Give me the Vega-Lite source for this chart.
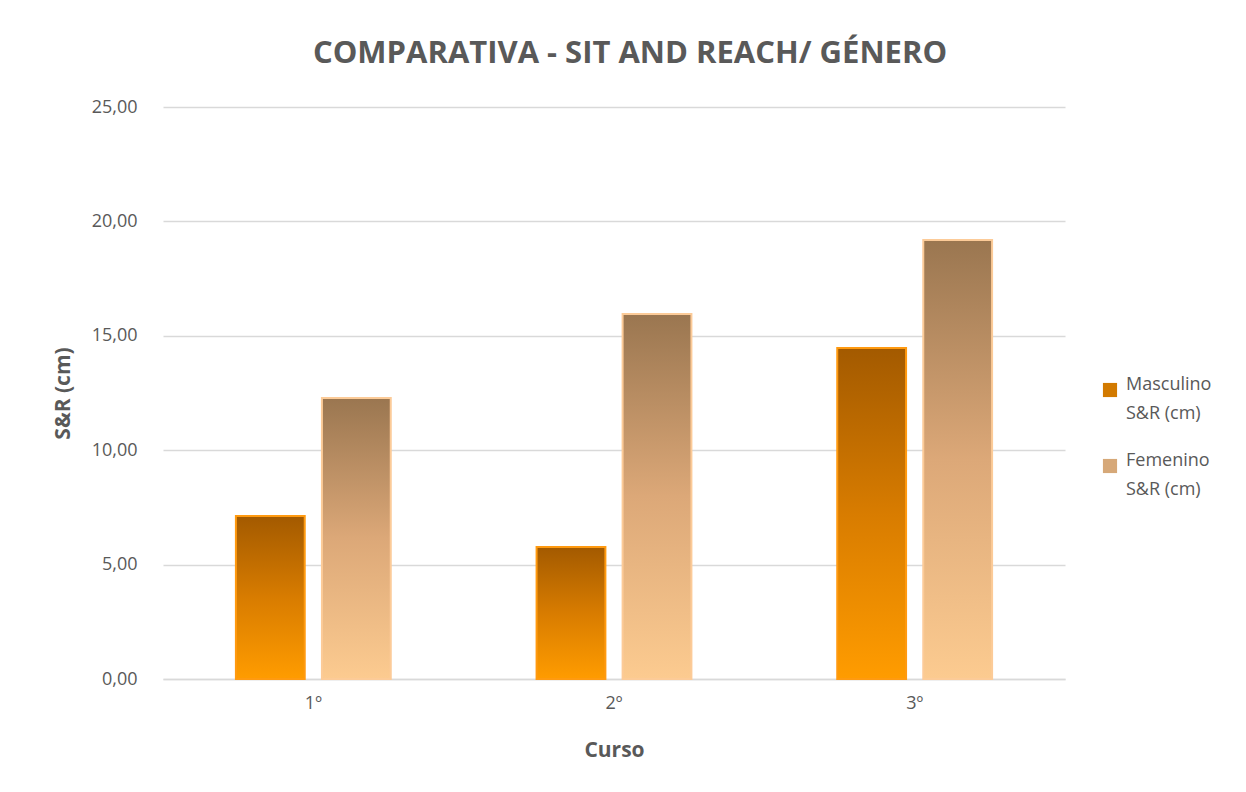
{
  "$schema": "https://vega.github.io/schema/vega-lite/v6.json",
  "width": 902,
  "height": 572,
  "autosize": {"type": "none"},
  "padding": {"left": 163, "top": 107, "right": 181, "bottom": 113},
  "background": "white",
  "title": {
    "text": "COMPARATIVA - SIT AND REACH/ GÉNERO",
    "font": "Open Sans",
    "fontSize": 31,
    "fontWeight": "bold",
    "color": "#595959",
    "anchor": "middle",
    "offset": 28,
    "dx": 16
  },
  "data": {
    "values": [
      {"curso": "1º", "genero": "Masculino S&R (cm)", "valor": 7.12},
      {"curso": "1º", "genero": "Femenino S&R (cm)", "valor": 12.28},
      {"curso": "2º", "genero": "Masculino S&R (cm)", "valor": 5.77},
      {"curso": "2º", "genero": "Femenino S&R (cm)", "valor": 15.95},
      {"curso": "3º", "genero": "Masculino S&R (cm)", "valor": 14.47},
      {"curso": "3º", "genero": "Femenino S&R (cm)", "valor": 19.19}
    ]
  },
  "encoding": {
    "x": {
      "field": "curso",
      "type": "nominal",
      "title": "Curso",
      "scale": {"paddingInner": 0.485, "paddingOuter": 0.2425},
      "axis": {
        "labelAngle": 0,
        "labelFont": "Open Sans",
        "labelFontSize": 18,
        "labelColor": "#595959",
        "labelPadding": 15,
        "ticks": false,
        "domainColor": "#d9d9d9",
        "domainWidth": 1.5,
        "titleFont": "Open Sans",
        "titleFontSize": 21,
        "titleFontWeight": "bold",
        "titleColor": "#595959",
        "titlePadding": 27
      }
    },
    "xOffset": {
      "field": "genero",
      "type": "nominal",
      "sort": ["Masculino S&R (cm)", "Femenino S&R (cm)"],
      "scale": {"paddingInner": 0.2, "paddingOuter": 0}
    },
    "y": {
      "field": "valor",
      "type": "quantitative",
      "title": "S&R (cm)",
      "scale": {"domain": [0, 25]},
      "axis": {
        "values": [0, 5, 10, 15, 20, 25],
        "labelExpr": "replace(format(datum.value, '.2f'), '.', ',')",
        "labelFont": "Open Sans",
        "labelFontSize": 18,
        "labelColor": "#595959",
        "labelPadding": 26,
        "ticks": false,
        "domain": false,
        "gridColor": "#d9d9d9",
        "gridWidth": 1.5,
        "titleFont": "Open Sans",
        "titleFontSize": 21,
        "titleFontWeight": "bold",
        "titleColor": "#595959",
        "titlePadding": 18
      }
    }
  },
  "layer": [
    {
      "mark": {"type": "bar"},
      "encoding": {
        "color": {
          "field": "genero",
          "type": "nominal",
          "title": null,
          "sort": ["Masculino S&R (cm)", "Femenino S&R (cm)"],
          "scale": {
            "domain": ["Masculino S&R (cm)", "Femenino S&R (cm)"],
            "range": ["#d27a00", "#d6a878"]
          },
          "legend": {
            "orient": "none",
            "legendX": 938,
            "legendY": 274,
            "symbolType": "square",
            "symbolSize": 200,
            "symbolStrokeWidth": 1,
            "labelFont": "Open Sans",
            "labelFontSize": 18,
            "labelColor": "#595959",
            "labelLimit": 200,
            "labelExpr": "[replace(datum.label, ' S&R (cm)', ''), 'S&R (cm)']",
            "labelBaseline": "alphabetic",
            "labelOffset": 7,
            "rowPadding": 29,
            "padding": 0
          }
        }
      }
    },
    {
      "mark": {"type": "bar", "strokeWidth": 2},
      "encoding": {
        "fill": {
          "condition": {
            "test": "indexof(datum.genero, 'Masculino') >= 0",
            "value": {
              "gradient": "linear",
              "x1": 0, "y1": 0, "x2": 0, "y2": 1,
              "stops": [
                {"offset": 0, "color": "#a35a00"},
                {"offset": 0.5, "color": "#d87c00"},
                {"offset": 1, "color": "#ff9c00"}
              ]
            }
          },
          "value": {
            "gradient": "linear",
            "x1": 0, "y1": 0, "x2": 0, "y2": 1,
            "stops": [
              {"offset": 0, "color": "#9a7650"},
              {"offset": 0.5, "color": "#dca878"},
              {"offset": 1, "color": "#fccb90"}
            ]
          }
        },
        "stroke": {
          "condition": {
            "test": "indexof(datum.genero, 'Masculino') >= 0",
            "value": "#ff9a10"
          },
          "value": "#fccb98"
        }
      }
    }
  ],
  "config": {
    "view": {"stroke": null},
    "style": {"guide-label": {"lineHeight": 29}}
  }
}
